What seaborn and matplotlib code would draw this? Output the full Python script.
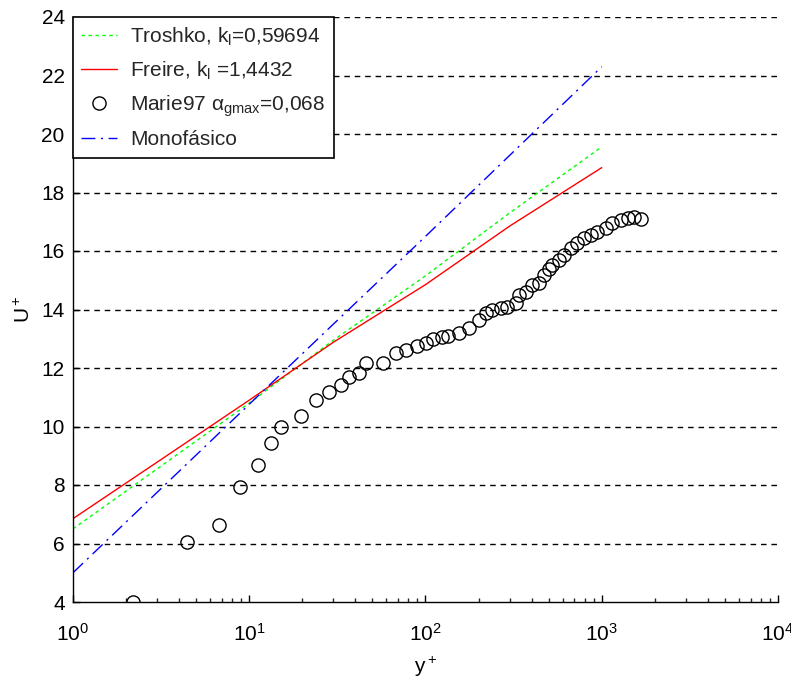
import matplotlib
matplotlib.use("Agg")
import matplotlib.pyplot as plt
import seaborn as sns
import pandas as pd
from matplotlib.ticker import FixedLocator, LogLocator, NullFormatter

# ---- data ----
troshko_y = [1, 3, 10, 30, 100, 300, 1000]
troshko_u = [6.5, 8.55, 10.8, 12.95, 15.15, 17.3, 19.56]

freire_y = [1, 3, 10, 30, 100, 300, 1000]
freire_u = [6.85, 8.78, 10.9, 12.88, 14.85, 16.85, 18.85]

mono_y = [1, 10, 100, 1000]
mono_u = [5.0, 10.76, 16.5, 22.3]

marie_y = [2.18, 4.43, 6.75, 8.89, 11.2, 13.2, 15.2, 19.7, 24.0, 28.5, 33.2, 37.0,
           41.8, 46.2, 57.5, 68.1, 77.7, 89.7, 101, 111, 124, 135, 155, 176, 201,
           219, 239, 267, 291, 325, 339, 370, 404, 441, 470, 500, 525, 572, 611,
           667, 728, 794, 866, 945, 1054, 1150, 1282, 1400, 1527, 1666]
marie_u = [4.00, 6.04, 6.63, 7.92, 8.67, 9.43, 9.97, 10.37, 10.90, 11.19, 11.42, 11.68,
           11.82, 12.16, 12.18, 12.52, 12.63, 12.74, 12.85, 13.00, 13.07, 13.09, 13.20,
           13.36, 13.64, 13.89, 13.98, 14.04, 14.08, 14.21, 14.50, 14.61, 14.84, 14.90,
           15.18, 15.40, 15.52, 15.69, 15.86, 16.09, 16.26, 16.43, 16.55, 16.66, 16.78,
           16.95, 17.06, 17.12, 17.15, 17.10]

yticks = [4, 6, 8, 10, 12, 14, 16, 18, 20, 22, 24]
xticks = [1, 10, 100, 1000, 10000]
xticklabels = [r"$10^{0}$", r"$10^{1}$", r"$10^{2}$", r"$10^{3}$", r"$10^{4}$"]

labels = [r"Troshko, k$_l$=0,59694", r"Freire, k$_l$ =1,4432",
          r"Marie97 $\alpha_{gmax}$=0,068", "Monofásico"]

# ---- style ----
sns.set_theme(style="white")
plt.rcParams["font.family"] = ["Liberation Sans", "DejaVu Sans"]
plt.rcParams["mathtext.fontset"] = "custom"
plt.rcParams["mathtext.rm"] = "Liberation Sans"
plt.rcParams["mathtext.it"] = "Liberation Sans"
plt.rcParams["mathtext.bf"] = "Liberation Sans:bold"
plt.rcParams["mathtext.sf"] = "Liberation Sans"

fig = plt.figure(figsize=(7.91, 6.82), dpi=100)
ax = fig.add_axes([73 / 791, 80 / 682, 705 / 791, 585 / 682])

df_t = pd.DataFrame({"y": troshko_y, "u": troshko_u})
df_f = pd.DataFrame({"y": freire_y, "u": freire_u})
df_m = pd.DataFrame({"y": mono_y, "u": mono_u})
df_d = pd.DataFrame({"y": marie_y, "u": marie_u})

sns.lineplot(data=df_t, x="y", y="u", ax=ax, color="#00ff00", lw=1.0,
             linestyle=(0, (2.5, 2.5)), label=labels[0], sort=False)
sns.lineplot(data=df_f, x="y", y="u", ax=ax, color="#ff0000", lw=1.0,
             linestyle="-", label=labels[1], sort=False)
sns.lineplot(data=df_d, x="y", y="u", ax=ax, color="black", linestyle="",
             marker="o", ms=9.5, mfc="none", mec="black", mew=1.0,
             label=labels[2], sort=False)
sns.lineplot(data=df_m, x="y", y="u", ax=ax, color="#0000ff", lw=1.0,
             linestyle=(0, (10, 4, 1.5, 4)), label=labels[3], sort=False)

ax.set_xscale("log")
ax.set_xlim(1, 10000)
ax.set_ylim(4, 24)

for v in yticks[1:]:
    ax.axhline(v, color="black", lw=1.0, linestyle=(0, (4, 3.5)), zorder=0)

ax.xaxis.set_major_locator(FixedLocator(xticks))
ax.set_xticklabels(xticklabels)
ax.xaxis.set_minor_locator(LogLocator(base=10, subs=range(2, 10)))
ax.xaxis.set_minor_formatter(NullFormatter())
ax.set_yticks(yticks)
ax.set_yticklabels([str(v) for v in yticks])

ax.tick_params(axis="both", which="major", direction="in", length=5, width=1,
               labelsize=15, colors="black", bottom=True, left=True, top=False, right=False)
ax.tick_params(axis="x", which="minor", direction="in", length=3, width=1,
               bottom=True, top=False)
ax.tick_params(axis="x", which="major", pad=15)
ax.tick_params(axis="y", which="major", pad=6)

for s in ["top", "right"]:
    ax.spines[s].set_visible(False)
for s in ["left", "bottom"]:
    ax.spines[s].set_color("black")
    ax.spines[s].set_linewidth(1.0)

ax.set_xlabel(r"y$^+$", fontsize=15, color="black", labelpad=7)
ax.set_ylabel(r"U$^+$", fontsize=15, color="black", labelpad=5)

leg = ax.legend(loc="upper left", bbox_to_anchor=(0, 1), borderaxespad=0,
                fontsize=15, frameon=True, fancybox=False, shadow=False,
                handlelength=1.7, handletextpad=0.65, labelspacing=0.56,
                borderpad=0.4, framealpha=1)
leg.get_frame().set_edgecolor("black")
leg.get_frame().set_linewidth(1.2)

fig.savefig("out.png", dpi=100)
